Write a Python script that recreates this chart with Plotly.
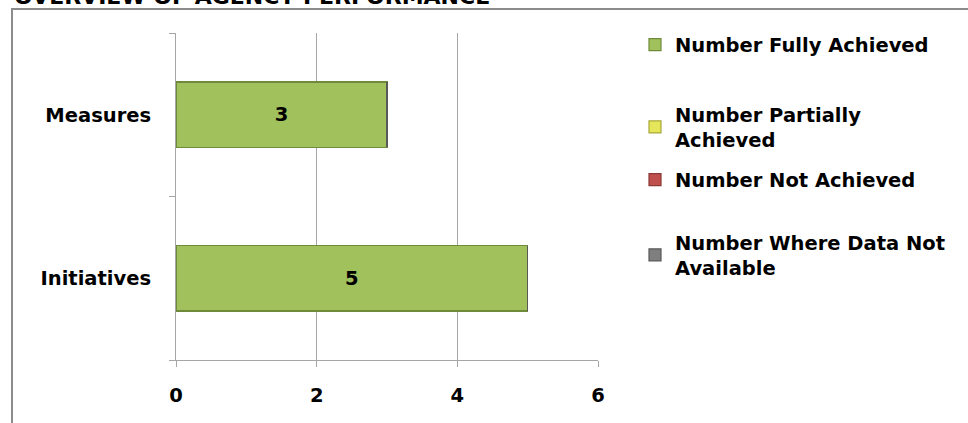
import plotly.graph_objects as go

categories = ["Initiatives", "Measures"]
fully_achieved = [5, 3]
partially_achieved = [0, 0]
not_achieved = [0, 0]
data_not_available = [0, 0]
x_ticks = [0, 2, 4, 6]

series = [
    ("Number Fully Achieved", fully_achieved, "#A0C15C", "#6F8A3A", "legend"),
    ("Number Partially<br>Achieved", partially_achieved, "#E6E65A", "#A8A83A", "legend2"),
    ("Number Not Achieved", not_achieved, "#C0504D", "#8C3836", "legend3"),
    ("Number Where Data Not<br>Available", data_not_available, "#7F7F7F", "#595959", "legend4"),
]

FONT = "'DejaVu Sans', sans-serif"
FS = 19.5

fig = go.Figure()
for i, (name, vals, col, lcol, lg) in enumerate(series):
    fig.add_trace(go.Bar(
        y=categories, x=vals, name=name, orientation="h",
        marker=dict(color=col, line=dict(color=lcol, width=1.2)),
        width=0.4,
        text=[str(v) for v in vals] if i == 0 else None,
        textposition="inside" if i == 0 else "none",
        insidetextanchor="middle",
        textfont=dict(family=FONT, size=FS, color="#000000"),
        legend=lg,
    ))

W, H = 968, 423
L, R, T, B = 176, 370, 33, 63
pw, ph = W - L - R, H - T - B

def px(x):
    return (x - L) / pw

def py(y):
    return (H - B - y) / ph

legend_common = dict(
    font=dict(family=FONT, size=FS, color="#000000"),
    bgcolor="rgba(0,0,0,0)", xanchor="left", yanchor="middle",
    itemwidth=30, tracegroupgap=0,
)
fig.update_layout(
    barmode="stack",
    width=W, height=H,
    margin=dict(l=L, r=R, t=T, b=B),
    plot_bgcolor="white", paper_bgcolor="white",
    showlegend=True,
    legend=dict(x=px(635), y=py(45), **legend_common),
    legend2=dict(x=px(635), y=py(127), **legend_common),
    legend3=dict(x=px(635), y=py(180), **legend_common),
    legend4=dict(x=px(635), y=py(255), **legend_common),
    xaxis=dict(
        range=[0, 6], tickvals=x_ticks, ticktext=[str(t) for t in x_ticks],
        showgrid=True, gridcolor="#A6A6A6", gridwidth=1,
        showline=True, linecolor="#A6A6A6", linewidth=1,
        ticks="outside", ticklen=6, tickcolor="#A6A6A6",
        tickfont=dict(family=FONT, size=FS, color="#000000"),
        zeroline=False, fixedrange=True, ticklabelstandoff=12,
    ),
    yaxis=dict(
        type="category", categoryorder="array", categoryarray=categories,
        range=[-0.5, 1.5], tickson="boundaries",
        showline=True, linecolor="#A6A6A6", linewidth=1,
        ticks="outside", ticklen=6, tickcolor="#A6A6A6",
        showgrid=False,
        tickfont=dict(family=FONT, size=FS, color="#000000"),
        ticklabelstandoff=20,
    ),
    shapes=[
        dict(type="rect", xref="paper", yref="paper",
             x0=px(12), x1=px(990), y0=py(440), y1=py(9),
             line=dict(color="#8C8C8C", width=2), fillcolor="rgba(0,0,0,0)", layer="below"),
    ],
    annotations=[
        dict(text="<b>OVERVIEW OF AGENCY PERFORMANCE</b>", xref="paper", yref="paper",
             x=px(12), y=py(11), xanchor="left", yanchor="bottom", showarrow=False,
             font=dict(family=FONT, size=22, color="#000000")),
    ],
)
fig.update_layout(font=dict(family=FONT, weight="bold"))
fig.write_html("out.html")
